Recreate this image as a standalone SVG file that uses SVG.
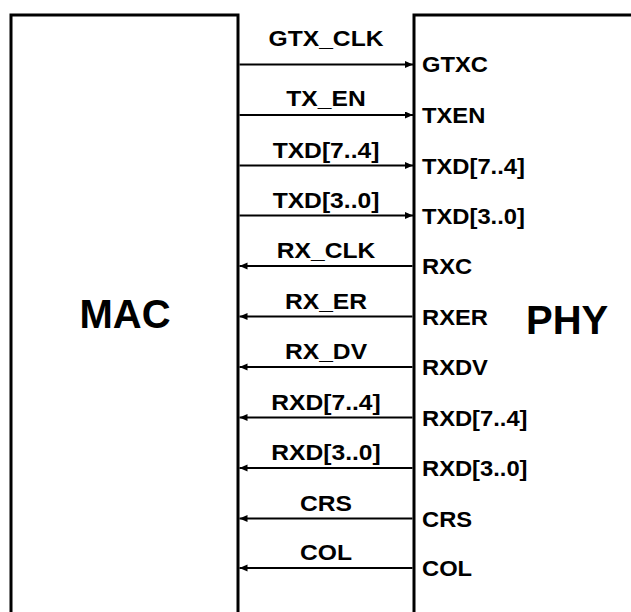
<svg xmlns="http://www.w3.org/2000/svg" width="631" height="612" viewBox="0 0 631 612">
<style>
.box{fill:#fff;stroke:#000;stroke-width:3}
.sig{stroke:#000;stroke-width:2;fill:none}
.lbl{font-family:"Liberation Sans",Arial,sans-serif;font-weight:bold;font-size:22px;fill:#000}
.mid{text-anchor:middle}
.big{font-family:"Liberation Sans",Arial,sans-serif;font-weight:bold;font-size:40px;fill:#000}
</style>
<defs>
<marker id="ah" markerUnits="userSpaceOnUse" markerWidth="9" markerHeight="8" refX="8" refY="3.5" orient="auto">
<path d="M0,0 L8,3.5 L0,7 z" fill="#000"/>
</marker>
</defs>
<rect width="631" height="612" fill="#fff"/>
<g id="mac">
<rect class="box" x="11" y="15" width="227" height="620"/>
<text class="big" x="125" y="328" text-anchor="middle">MAC</text>
</g>
<g id="phy">
<rect class="box" x="414" y="15" width="260" height="620"/>
<text class="big" x="526" y="334">PHY</text>
<text class="lbl" transform="translate(422 72) scale(1.08 1)">GTXC</text>
<text class="lbl" transform="translate(422 122.5) scale(1.08 1)">TXEN</text>
<text class="lbl" transform="translate(422 173.5) scale(1.08 1)">TXD[7..4]</text>
<text class="lbl" transform="translate(422 223.5) scale(1.08 1)">TXD[3..0]</text>
<text class="lbl" transform="translate(422 274) scale(1.08 1)">RXC</text>
<text class="lbl" transform="translate(422 324.5) scale(1.08 1)">RXER</text>
<text class="lbl" transform="translate(422 375) scale(1.08 1)">RXDV</text>
<text class="lbl" transform="translate(422 425.5) scale(1.08 1)">RXD[7..4]</text>
<text class="lbl" transform="translate(422 476) scale(1.08 1)">RXD[3..0]</text>
<text class="lbl" transform="translate(422 526.5) scale(1.08 1)">CRS</text>
<text class="lbl" transform="translate(422 576) scale(1.08 1)">COL</text>
</g>
<g id="connectors">
<line class="sig" x1="239.5" y1="64.5" x2="413" y2="64.5" marker-end="url(#ah)"/>
<line class="sig" x1="239.5" y1="115" x2="413" y2="115" marker-end="url(#ah)"/>
<line class="sig" x1="239.5" y1="165.5" x2="413" y2="165.5" marker-end="url(#ah)"/>
<line class="sig" x1="239.5" y1="215.5" x2="413" y2="215.5" marker-end="url(#ah)"/>
<line class="sig" x1="412.5" y1="266" x2="239.5" y2="266" marker-end="url(#ah)"/>
<line class="sig" x1="412.5" y1="316.5" x2="239.5" y2="316.5" marker-end="url(#ah)"/>
<line class="sig" x1="412.5" y1="367" x2="239.5" y2="367" marker-end="url(#ah)"/>
<line class="sig" x1="412.5" y1="417.5" x2="239.5" y2="417.5" marker-end="url(#ah)"/>
<line class="sig" x1="412.5" y1="468" x2="239.5" y2="468" marker-end="url(#ah)"/>
<line class="sig" x1="412.5" y1="518.5" x2="239.5" y2="518.5" marker-end="url(#ah)"/>
<line class="sig" x1="412.5" y1="568" x2="239.5" y2="568" marker-end="url(#ah)"/>
<text class="lbl mid" transform="translate(326 46) scale(1.12 1)">GTX_CLK</text>
<text class="lbl mid" transform="translate(326 106) scale(1.12 1)">TX_EN</text>
<text class="lbl mid" transform="translate(326 157.5) scale(1.12 1)">TXD[7..4]</text>
<text class="lbl mid" transform="translate(326 207.5) scale(1.12 1)">TXD[3..0]</text>
<text class="lbl mid" transform="translate(326 258) scale(1.12 1)">RX_CLK</text>
<text class="lbl mid" transform="translate(326 308.5) scale(1.12 1)">RX_ER</text>
<text class="lbl mid" transform="translate(326 359) scale(1.12 1)">RX_DV</text>
<text class="lbl mid" transform="translate(326 409.5) scale(1.12 1)">RXD[7..4]</text>
<text class="lbl mid" transform="translate(326 460) scale(1.12 1)">RXD[3..0]</text>
<text class="lbl mid" transform="translate(326 510.5) scale(1.12 1)">CRS</text>
<text class="lbl mid" transform="translate(326 560) scale(1.12 1)">COL</text>
</g>
</svg>
